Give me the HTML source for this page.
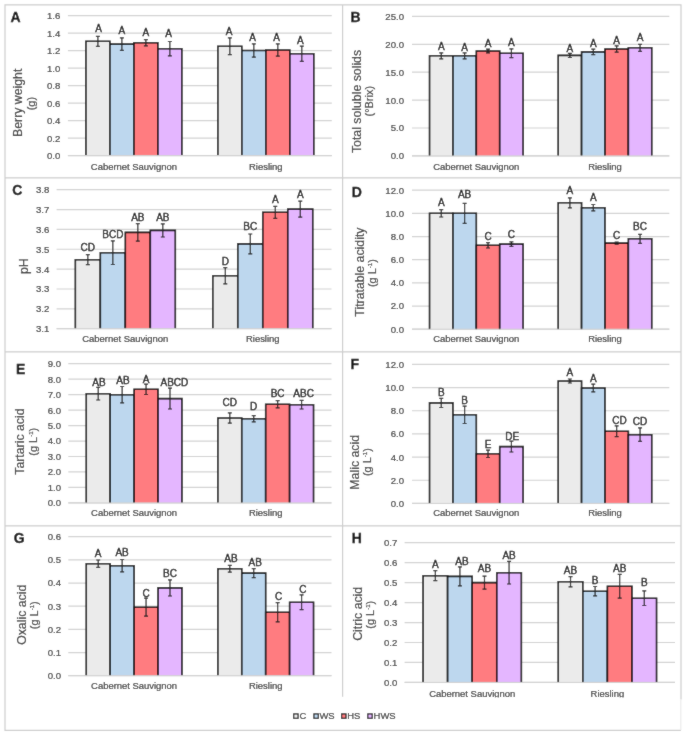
<!DOCTYPE html>
<html><head><meta charset="utf-8"><title>Figure</title>
<style>
html,body{margin:0;padding:0;background:#fff;}
body{width:685px;height:735px;overflow:hidden;}
svg{display:block;font-family:"Liberation Sans",sans-serif;}
</style></head>
<body>
<svg width="685" height="735" viewBox="0 0 685 735">
<defs><filter id="bl" x="0" y="0" width="685" height="735" filterUnits="userSpaceOnUse"><feConvolveMatrix order="3" kernelMatrix="1 2 1 2 28 2 1 2 1" edgeMode="duplicate" preserveAlpha="true"/></filter></defs>
<g filter="url(#bl)">
<rect width="685" height="735" fill="#fff"/>
<g transform="translate(0 0.3)">
<g fill="none" stroke="#cdcdcd" stroke-width="1.2">
<path d="M681 699.3V4.6H5V730H681"/>
<line x1="680.8" y1="699.3" x2="680.8" y2="730" stroke="#ececec"/>
<line x1="342.6" y1="4.6" x2="342.6" y2="696.5"/>
<line x1="5" y1="177.6" x2="681" y2="177.6"/>
<line x1="5" y1="351.6" x2="681" y2="351.6"/>
<line x1="5" y1="525.6" x2="681" y2="525.6"/>
</g>
<g stroke="#d2d2d2" stroke-width="1.2">
<line x1="67.9" y1="155.3" x2="331.8" y2="155.3"/>
<line x1="67.9" y1="137.8" x2="331.8" y2="137.8"/>
<line x1="67.9" y1="120.3" x2="331.8" y2="120.3"/>
<line x1="67.9" y1="102.8" x2="331.8" y2="102.8"/>
<line x1="67.9" y1="85.3" x2="331.8" y2="85.3"/>
<line x1="67.9" y1="67.8" x2="331.8" y2="67.8"/>
<line x1="67.9" y1="50.3" x2="331.8" y2="50.3"/>
<line x1="67.9" y1="32.8" x2="331.8" y2="32.8"/>
<line x1="67.9" y1="15.3" x2="331.8" y2="15.3"/>
</g>
<g font-size="9.6" fill="#333333" stroke="#333333" stroke-width="0.2" text-anchor="end">
<text transform="translate(60.3 158.75) scale(1 1.0)">0.0</text>
<text transform="translate(60.3 141.25) scale(1 1.0)">0.2</text>
<text transform="translate(60.3 123.75) scale(1 1.0)">0.4</text>
<text transform="translate(60.3 106.25) scale(1 1.0)">0.6</text>
<text transform="translate(60.3 88.75) scale(1 1.0)">0.8</text>
<text transform="translate(60.3 71.25) scale(1 1.0)">1.0</text>
<text transform="translate(60.3 53.75) scale(1 1.0)">1.2</text>
<text transform="translate(60.3 36.25) scale(1 1.0)">1.4</text>
<text transform="translate(60.3 18.75) scale(1 1.0)">1.6</text>
</g>
<rect x="85.89" y="41" width="23.99" height="114.3" fill="#ebebeb"/>
<path d="M85.89 155.3V41H109.88V155.3" fill="none" stroke="#000" stroke-width="1.6"/>
<rect x="109.88" y="43.8" width="23.99" height="111.5" fill="#bdd7ee"/>
<path d="M109.88 155.3V43.8H133.88V155.3" fill="none" stroke="#000" stroke-width="1.6"/>
<rect x="133.88" y="42.5" width="23.99" height="112.8" fill="#ff7c80"/>
<path d="M133.88 155.3V42.5H157.87V155.3" fill="none" stroke="#000" stroke-width="1.6"/>
<rect x="157.87" y="48.4" width="23.99" height="106.9" fill="#e4b6ff"/>
<path d="M157.87 155.3V48.4H181.86V155.3" fill="none" stroke="#000" stroke-width="1.6"/>
<rect x="217.84" y="46" width="23.99" height="109.3" fill="#ebebeb"/>
<path d="M217.84 155.3V46H241.83V155.3" fill="none" stroke="#000" stroke-width="1.6"/>
<rect x="241.83" y="50.2" width="23.99" height="105.1" fill="#bdd7ee"/>
<path d="M241.83 155.3V50.2H265.82V155.3" fill="none" stroke="#000" stroke-width="1.6"/>
<rect x="265.82" y="49.7" width="23.99" height="105.6" fill="#ff7c80"/>
<path d="M265.82 155.3V49.7H289.82V155.3" fill="none" stroke="#000" stroke-width="1.6"/>
<rect x="289.82" y="53.4" width="23.99" height="101.9" fill="#e4b6ff"/>
<path d="M289.82 155.3V53.4H313.81V155.3" fill="none" stroke="#000" stroke-width="1.6"/>
<line x1="67.9" y1="155.3" x2="331.8" y2="155.3" stroke="#d2d2d2" stroke-width="1"/>
<g stroke="#1e1e1e" stroke-width="1.2">
<path d="M97.89 36V46M95.89 36H99.89M95.89 46H99.89"/>
<path d="M121.88 37.6V50M119.88 37.6H123.88M119.88 50H123.88"/>
<path d="M145.87 39.4V45.6M143.87 39.4H147.87M143.87 45.6H147.87"/>
<path d="M169.86 41.2V55.6M167.86 41.2H171.86M167.86 55.6H171.86"/>
<path d="M229.84 37.6V54.4M227.84 37.6H231.84M227.84 54.4H231.84"/>
<path d="M253.83 43.5V56.9M251.83 43.5H255.83M251.83 56.9H255.83"/>
<path d="M277.82 43.6V55.8M275.82 43.6H279.82M275.82 55.8H279.82"/>
<path d="M301.81 45.8V61M299.81 45.8H303.81M299.81 61H303.81"/>
</g>
<g font-size="10" fill="#000" stroke="#000" stroke-width="0.32" text-anchor="middle">
<text x="98.49" y="32.2">A</text>
<text x="121.88" y="33.8">A</text>
<text x="145.87" y="35.4">A</text>
<text x="168.66" y="37">A</text>
<text x="229.04" y="34.5">A</text>
<text x="252.53" y="40.3">A</text>
<text x="276.62" y="40.3">A</text>
<text x="300.41" y="43.5">A</text>
</g>
<g font-size="9.45" fill="#333333" stroke="#333333" stroke-width="0.2" text-anchor="middle">
<text transform="translate(133.88 169.3) scale(1 1.0)">Cabernet Sauvignon</text>
<text transform="translate(265.82 169.3) scale(1 1.0)">Riesling</text>
</g>
<text transform="translate(22.4 102.5) rotate(-90)" font-size="12.3" fill="#333333" stroke="#333333" stroke-width="0.2" text-anchor="middle">Berry weight</text>
<text transform="translate(35.2 103.3) rotate(-90)" font-size="11" fill="#333333" stroke="#333333" stroke-width="0.2" text-anchor="middle">(g)</text>
<text x="10.5" y="22" font-size="14" font-weight="bold" fill="#000" stroke="#000" stroke-width="0.3">A</text>
<g stroke="#d2d2d2" stroke-width="1.2">
<line x1="412" y1="155.6" x2="669.3" y2="155.6"/>
<line x1="412" y1="127.7" x2="669.3" y2="127.7"/>
<line x1="412" y1="99.8" x2="669.3" y2="99.8"/>
<line x1="412" y1="71.9" x2="669.3" y2="71.9"/>
<line x1="412" y1="44" x2="669.3" y2="44"/>
<line x1="412" y1="16.1" x2="669.3" y2="16.1"/>
</g>
<g font-size="9.6" fill="#333333" stroke="#333333" stroke-width="0.2" text-anchor="end">
<text transform="translate(404 159.05) scale(1 1.0)">0.0</text>
<text transform="translate(404 131.15) scale(1 1.0)">5.0</text>
<text transform="translate(404 103.25) scale(1 1.0)">10.0</text>
<text transform="translate(404 75.35) scale(1 1.0)">15.0</text>
<text transform="translate(404 47.45) scale(1 1.0)">20.0</text>
<text transform="translate(404 19.55) scale(1 1.0)">25.0</text>
</g>
<rect x="429.54" y="55.5" width="23.39" height="100.1" fill="#ebebeb"/>
<path d="M429.54 155.6V55.5H452.93V155.6" fill="none" stroke="#000" stroke-width="1.6"/>
<rect x="452.93" y="55.5" width="23.39" height="100.1" fill="#bdd7ee"/>
<path d="M452.93 155.6V55.5H476.32V155.6" fill="none" stroke="#000" stroke-width="1.6"/>
<rect x="476.32" y="50.7" width="23.39" height="104.9" fill="#ff7c80"/>
<path d="M476.32 155.6V50.7H499.72V155.6" fill="none" stroke="#000" stroke-width="1.6"/>
<rect x="499.72" y="52.9" width="23.39" height="102.7" fill="#e4b6ff"/>
<path d="M499.72 155.6V52.9H523.11V155.6" fill="none" stroke="#000" stroke-width="1.6"/>
<rect x="558.19" y="55.1" width="23.39" height="100.5" fill="#ebebeb"/>
<path d="M558.19 155.6V55.1H581.58V155.6" fill="none" stroke="#000" stroke-width="1.6"/>
<rect x="581.58" y="51.6" width="23.39" height="104" fill="#bdd7ee"/>
<path d="M581.58 155.6V51.6H604.97V155.6" fill="none" stroke="#000" stroke-width="1.6"/>
<rect x="604.97" y="48.7" width="23.39" height="106.9" fill="#ff7c80"/>
<path d="M604.97 155.6V48.7H628.37V155.6" fill="none" stroke="#000" stroke-width="1.6"/>
<rect x="628.37" y="47.5" width="23.39" height="108.1" fill="#e4b6ff"/>
<path d="M628.37 155.6V47.5H651.76V155.6" fill="none" stroke="#000" stroke-width="1.6"/>
<line x1="412" y1="155.6" x2="669.3" y2="155.6" stroke="#d2d2d2" stroke-width="1"/>
<g stroke="#1e1e1e" stroke-width="1.2">
<path d="M441.24 52.5V58.5M439.24 52.5H443.24M439.24 58.5H443.24"/>
<path d="M464.63 52.5V58.5M462.63 52.5H466.63M462.63 58.5H466.63"/>
<path d="M488.02 48.9V52.5M486.02 48.9H490.02M486.02 52.5H490.02"/>
<path d="M511.41 48.5V57.3M509.41 48.5H513.41M509.41 57.3H513.41"/>
<path d="M569.89 53V57.2M567.89 53H571.89M567.89 57.2H571.89"/>
<path d="M593.28 48.9V54.3M591.28 48.9H595.28M591.28 54.3H595.28"/>
<path d="M616.67 45.6V51.8M614.67 45.6H618.67M614.67 51.8H618.67"/>
<path d="M640.06 44V51M638.06 44H642.06M638.06 51H642.06"/>
</g>
<g font-size="10" fill="#000" stroke="#000" stroke-width="0.32" text-anchor="middle">
<text x="441.24" y="50.1">A</text>
<text x="464.63" y="50.4">A</text>
<text x="488.02" y="46.9">A</text>
<text x="511.41" y="45.7">A</text>
<text x="569.89" y="51.6">A</text>
<text x="593.28" y="46.5">A</text>
<text x="616.67" y="43.6">A</text>
<text x="640.06" y="41.1">A</text>
</g>
<g font-size="9.45" fill="#333333" stroke="#333333" stroke-width="0.2" text-anchor="middle">
<text transform="translate(476.32 169.3) scale(1 1.0)">Cabernet Sauvignon</text>
<text transform="translate(604.97 169.3) scale(1 1.0)">Riesling</text>
</g>
<text transform="translate(360.8 101.2) rotate(-90)" font-size="12.3" fill="#333333" stroke="#333333" stroke-width="0.2" text-anchor="middle">Total soluble solids</text>
<text transform="translate(373.2 100.9) rotate(-90)" font-size="11" fill="#333333" stroke="#333333" stroke-width="0.2" text-anchor="middle">(°Brix)</text>
<text x="350.4" y="21.8" font-size="14" font-weight="bold" fill="#000" stroke="#000" stroke-width="0.3">B</text>
<g stroke="#d2d2d2" stroke-width="1.2">
<line x1="56.6" y1="328.4" x2="331.5" y2="328.4"/>
<line x1="56.6" y1="308.54" x2="331.5" y2="308.54"/>
<line x1="56.6" y1="288.69" x2="331.5" y2="288.69"/>
<line x1="56.6" y1="268.83" x2="331.5" y2="268.83"/>
<line x1="56.6" y1="248.97" x2="331.5" y2="248.97"/>
<line x1="56.6" y1="229.11" x2="331.5" y2="229.11"/>
<line x1="56.6" y1="209.26" x2="331.5" y2="209.26"/>
<line x1="56.6" y1="189.4" x2="331.5" y2="189.4"/>
</g>
<g font-size="9.6" fill="#333333" stroke="#333333" stroke-width="0.2" text-anchor="end">
<text transform="translate(49.3 331.85) scale(1 1.0)">3.1</text>
<text transform="translate(49.3 311.99) scale(1 1.0)">3.2</text>
<text transform="translate(49.3 292.14) scale(1 1.0)">3.3</text>
<text transform="translate(49.3 272.28) scale(1 1.0)">3.4</text>
<text transform="translate(49.3 252.42) scale(1 1.0)">3.5</text>
<text transform="translate(49.3 232.56) scale(1 1.0)">3.6</text>
<text transform="translate(49.3 212.71) scale(1 1.0)">3.7</text>
<text transform="translate(49.3 192.85) scale(1 1.0)">3.8</text>
</g>
<rect x="75.34" y="259.4" width="24.99" height="69" fill="#ebebeb"/>
<path d="M75.34 328.4V259.4H100.33V328.4" fill="none" stroke="#000" stroke-width="1.6"/>
<rect x="100.33" y="252.4" width="24.99" height="76" fill="#bdd7ee"/>
<path d="M100.33 328.4V252.4H125.32V328.4" fill="none" stroke="#000" stroke-width="1.6"/>
<rect x="125.32" y="232.1" width="24.99" height="96.3" fill="#ff7c80"/>
<path d="M125.32 328.4V232.1H150.32V328.4" fill="none" stroke="#000" stroke-width="1.6"/>
<rect x="150.32" y="230.1" width="24.99" height="98.3" fill="#e4b6ff"/>
<path d="M150.32 328.4V230.1H175.31V328.4" fill="none" stroke="#000" stroke-width="1.6"/>
<rect x="212.79" y="275.5" width="24.99" height="52.9" fill="#ebebeb"/>
<path d="M212.79 328.4V275.5H237.78V328.4" fill="none" stroke="#000" stroke-width="1.6"/>
<rect x="237.78" y="243.6" width="24.99" height="84.8" fill="#bdd7ee"/>
<path d="M237.78 328.4V243.6H262.77V328.4" fill="none" stroke="#000" stroke-width="1.6"/>
<rect x="262.77" y="212" width="24.99" height="116.4" fill="#ff7c80"/>
<path d="M262.77 328.4V212H287.77V328.4" fill="none" stroke="#000" stroke-width="1.6"/>
<rect x="287.77" y="208.8" width="24.99" height="119.6" fill="#e4b6ff"/>
<path d="M287.77 328.4V208.8H312.76V328.4" fill="none" stroke="#000" stroke-width="1.6"/>
<line x1="56.6" y1="328.4" x2="331.5" y2="328.4" stroke="#d2d2d2" stroke-width="1"/>
<g stroke="#1e1e1e" stroke-width="1.2">
<path d="M87.84 254.4V264.4M85.84 254.4H89.84M85.84 264.4H89.84"/>
<path d="M112.83 240.6V264.2M110.83 240.6H114.83M110.83 264.2H114.83"/>
<path d="M137.82 223.4V240.8M135.82 223.4H139.82M135.82 240.8H139.82"/>
<path d="M162.81 223.5V236.7M160.81 223.5H164.81M160.81 236.7H164.81"/>
<path d="M225.29 267.4V283.6M223.29 267.4H227.29M223.29 283.6H227.29"/>
<path d="M250.28 233.7V253.5M248.28 233.7H252.28M248.28 253.5H252.28"/>
<path d="M275.27 206V218M273.27 206H277.27M273.27 218H277.27"/>
<path d="M300.26 200.8V216.8M298.26 200.8H302.26M298.26 216.8H302.26"/>
</g>
<g font-size="10" fill="#000" stroke="#000" stroke-width="0.32" text-anchor="middle">
<text x="87.84" y="250.5">CD</text>
<text x="112.83" y="237.6">BCD</text>
<text x="137.82" y="220.3">AB</text>
<text x="162.81" y="220.3">AB</text>
<text x="225.29" y="265.2">D</text>
<text x="250.28" y="229.8">BC</text>
<text x="275.27" y="202.5">A</text>
<text x="300.26" y="197.7">A</text>
</g>
<g font-size="9.45" fill="#333333" stroke="#333333" stroke-width="0.2" text-anchor="middle">
<text transform="translate(125.32 341.8) scale(1 1.0)">Cabernet Sauvignon</text>
<text transform="translate(262.77 341.8) scale(1 1.0)">Riesling</text>
</g>
<text transform="translate(28.4 265.9) rotate(-90)" font-size="12.3" fill="#333333" stroke="#333333" stroke-width="0.2" text-anchor="middle">pH</text>
<text x="12.2" y="194.9" font-size="14" font-weight="bold" fill="#000" stroke="#000" stroke-width="0.3">C</text>
<g stroke="#d2d2d2" stroke-width="1.2">
<line x1="412" y1="328.9" x2="669.3" y2="328.9"/>
<line x1="412" y1="305.73" x2="669.3" y2="305.73"/>
<line x1="412" y1="282.57" x2="669.3" y2="282.57"/>
<line x1="412" y1="259.4" x2="669.3" y2="259.4"/>
<line x1="412" y1="236.23" x2="669.3" y2="236.23"/>
<line x1="412" y1="213.07" x2="669.3" y2="213.07"/>
<line x1="412" y1="189.9" x2="669.3" y2="189.9"/>
</g>
<g font-size="9.6" fill="#333333" stroke="#333333" stroke-width="0.2" text-anchor="end">
<text transform="translate(404 332.35) scale(1 1.0)">0.0</text>
<text transform="translate(404 309.18) scale(1 1.0)">2.0</text>
<text transform="translate(404 286.02) scale(1 1.0)">4.0</text>
<text transform="translate(404 262.85) scale(1 1.0)">6.0</text>
<text transform="translate(404 239.68) scale(1 1.0)">8.0</text>
<text transform="translate(404 216.52) scale(1 1.0)">10.0</text>
<text transform="translate(404 193.35) scale(1 1.0)">12.0</text>
</g>
<rect x="429.54" y="213" width="23.39" height="115.9" fill="#ebebeb"/>
<path d="M429.54 328.9V213H452.93V328.9" fill="none" stroke="#000" stroke-width="1.6"/>
<rect x="452.93" y="213" width="23.39" height="115.9" fill="#bdd7ee"/>
<path d="M452.93 328.9V213H476.32V328.9" fill="none" stroke="#000" stroke-width="1.6"/>
<rect x="476.32" y="245" width="23.39" height="83.9" fill="#ff7c80"/>
<path d="M476.32 328.9V245H499.72V328.9" fill="none" stroke="#000" stroke-width="1.6"/>
<rect x="499.72" y="243.8" width="23.39" height="85.1" fill="#e4b6ff"/>
<path d="M499.72 328.9V243.8H523.11V328.9" fill="none" stroke="#000" stroke-width="1.6"/>
<rect x="558.19" y="202.5" width="23.39" height="126.4" fill="#ebebeb"/>
<path d="M558.19 328.9V202.5H581.58V328.9" fill="none" stroke="#000" stroke-width="1.6"/>
<rect x="581.58" y="207.4" width="23.39" height="121.5" fill="#bdd7ee"/>
<path d="M581.58 328.9V207.4H604.97V328.9" fill="none" stroke="#000" stroke-width="1.6"/>
<rect x="604.97" y="242.8" width="23.39" height="86.1" fill="#ff7c80"/>
<path d="M604.97 328.9V242.8H628.37V328.9" fill="none" stroke="#000" stroke-width="1.6"/>
<rect x="628.37" y="238.5" width="23.39" height="90.4" fill="#e4b6ff"/>
<path d="M628.37 328.9V238.5H651.76V328.9" fill="none" stroke="#000" stroke-width="1.6"/>
<line x1="412" y1="328.9" x2="669.3" y2="328.9" stroke="#d2d2d2" stroke-width="1"/>
<g stroke="#1e1e1e" stroke-width="1.2">
<path d="M441.24 209.3V216.7M439.24 209.3H443.24M439.24 216.7H443.24"/>
<path d="M464.63 203V223M462.63 203H466.63M462.63 223H466.63"/>
<path d="M488.02 242.3V247.7M486.02 242.3H490.02M486.02 247.7H490.02"/>
<path d="M511.41 241.5V246.1M509.41 241.5H513.41M509.41 246.1H513.41"/>
<path d="M569.89 197.5V207.5M567.89 197.5H571.89M567.89 207.5H571.89"/>
<path d="M593.28 204.2V210.6M591.28 204.2H595.28M591.28 210.6H595.28"/>
<path d="M616.67 241.8V243.8M614.67 241.8H618.67M614.67 243.8H618.67"/>
<path d="M640.06 234V243M638.06 234H642.06M638.06 243H642.06"/>
</g>
<g font-size="10" fill="#000" stroke="#000" stroke-width="0.32" text-anchor="middle">
<text x="441.24" y="205.6">A</text>
<text x="464.63" y="198">AB</text>
<text x="488.02" y="239.3">C</text>
<text x="511.41" y="238">C</text>
<text x="569.89" y="194">A</text>
<text x="593.28" y="201.2">A</text>
<text x="616.67" y="239">C</text>
<text x="640.06" y="229.3">BC</text>
</g>
<g font-size="9.45" fill="#333333" stroke="#333333" stroke-width="0.2" text-anchor="middle">
<text transform="translate(476.32 341.8) scale(1 1.0)">Cabernet Sauvignon</text>
<text transform="translate(604.97 341.8) scale(1 1.0)">Riesling</text>
</g>
<text transform="translate(364 271.8) rotate(-90)" font-size="12.3" fill="#333333" stroke="#333333" stroke-width="0.2" text-anchor="middle">Titratable acidity</text>
<text transform="translate(376 272.8) rotate(-90)" font-size="11" fill="#333333" stroke="#333333" stroke-width="0.2" text-anchor="middle">(g L<tspan font-size="6" dy="-3.8">-1</tspan><tspan dy="3.8">)</tspan></text>
<text x="351.7" y="196.8" font-size="14" font-weight="bold" fill="#000" stroke="#000" stroke-width="0.3">D</text>
<g stroke="#d2d2d2" stroke-width="1.2">
<line x1="68.3" y1="502.6" x2="331.5" y2="502.6"/>
<line x1="68.3" y1="487.13" x2="331.5" y2="487.13"/>
<line x1="68.3" y1="471.67" x2="331.5" y2="471.67"/>
<line x1="68.3" y1="456.2" x2="331.5" y2="456.2"/>
<line x1="68.3" y1="440.73" x2="331.5" y2="440.73"/>
<line x1="68.3" y1="425.27" x2="331.5" y2="425.27"/>
<line x1="68.3" y1="409.8" x2="331.5" y2="409.8"/>
<line x1="68.3" y1="394.33" x2="331.5" y2="394.33"/>
<line x1="68.3" y1="378.87" x2="331.5" y2="378.87"/>
<line x1="68.3" y1="363.4" x2="331.5" y2="363.4"/>
</g>
<g font-size="9.6" fill="#333333" stroke="#333333" stroke-width="0.2" text-anchor="end">
<text transform="translate(61 506.05) scale(1 1.0)">0.0</text>
<text transform="translate(61 490.58) scale(1 1.0)">1.0</text>
<text transform="translate(61 475.12) scale(1 1.0)">2.0</text>
<text transform="translate(61 459.65) scale(1 1.0)">3.0</text>
<text transform="translate(61 444.18) scale(1 1.0)">4.0</text>
<text transform="translate(61 428.72) scale(1 1.0)">5.0</text>
<text transform="translate(61 413.25) scale(1 1.0)">6.0</text>
<text transform="translate(61 397.78) scale(1 1.0)">7.0</text>
<text transform="translate(61 382.32) scale(1 1.0)">8.0</text>
<text transform="translate(61 366.85) scale(1 1.0)">9.0</text>
</g>
<rect x="86.25" y="393.4" width="23.93" height="109.2" fill="#ebebeb"/>
<path d="M86.25 502.6V393.4H110.17V502.6" fill="none" stroke="#000" stroke-width="1.6"/>
<rect x="110.17" y="394.4" width="23.93" height="108.2" fill="#bdd7ee"/>
<path d="M110.17 502.6V394.4H134.1V502.6" fill="none" stroke="#000" stroke-width="1.6"/>
<rect x="134.1" y="389" width="23.93" height="113.6" fill="#ff7c80"/>
<path d="M134.1 502.6V389H158.03V502.6" fill="none" stroke="#000" stroke-width="1.6"/>
<rect x="158.03" y="398.3" width="23.93" height="104.3" fill="#e4b6ff"/>
<path d="M158.03 502.6V398.3H181.95V502.6" fill="none" stroke="#000" stroke-width="1.6"/>
<rect x="217.85" y="417.7" width="23.93" height="84.9" fill="#ebebeb"/>
<path d="M217.85 502.6V417.7H241.77V502.6" fill="none" stroke="#000" stroke-width="1.6"/>
<rect x="241.77" y="418.5" width="23.93" height="84.1" fill="#bdd7ee"/>
<path d="M241.77 502.6V418.5H265.7V502.6" fill="none" stroke="#000" stroke-width="1.6"/>
<rect x="265.7" y="403.9" width="23.93" height="98.7" fill="#ff7c80"/>
<path d="M265.7 502.6V403.9H289.63V502.6" fill="none" stroke="#000" stroke-width="1.6"/>
<rect x="289.63" y="404.4" width="23.93" height="98.2" fill="#e4b6ff"/>
<path d="M289.63 502.6V404.4H313.55V502.6" fill="none" stroke="#000" stroke-width="1.6"/>
<line x1="68.3" y1="502.6" x2="331.5" y2="502.6" stroke="#d2d2d2" stroke-width="1"/>
<g stroke="#1e1e1e" stroke-width="1.2">
<path d="M98.21 387.1V399.7M96.21 387.1H100.21M96.21 399.7H100.21"/>
<path d="M122.14 386.2V402.6M120.14 386.2H124.14M120.14 402.6H124.14"/>
<path d="M146.06 383.8V394.2M144.06 383.8H148.06M144.06 394.2H148.06"/>
<path d="M169.99 387.9V408.7M167.99 387.9H171.99M167.99 408.7H171.99"/>
<path d="M229.81 412.6V422.8M227.81 412.6H231.81M227.81 422.8H231.81"/>
<path d="M253.74 415.4V421.6M251.74 415.4H255.74M251.74 421.6H255.74"/>
<path d="M277.66 400.3V407.5M275.66 400.3H279.66M275.66 407.5H279.66"/>
<path d="M301.59 400.1V408.7M299.59 400.1H303.59M299.59 408.7H303.59"/>
</g>
<g font-size="10" fill="#000" stroke="#000" stroke-width="0.32" text-anchor="middle">
<text x="99.01" y="385.3">AB</text>
<text x="122.94" y="383.7">AB</text>
<text x="146.06" y="382.4">A</text>
<text x="174.39" y="386.1">ABCD</text>
<text x="229.81" y="406">CD</text>
<text x="253.74" y="409.7">D</text>
<text x="277.66" y="396.4">BC</text>
<text x="303.59" y="396.7">ABC</text>
</g>
<g font-size="9.45" fill="#333333" stroke="#333333" stroke-width="0.2" text-anchor="middle">
<text transform="translate(134.1 515.6) scale(1 1.0)">Cabernet Sauvignon</text>
<text transform="translate(265.7 515.6) scale(1 1.0)">Riesling</text>
</g>
<text transform="translate(24.2 441.3) rotate(-90)" font-size="12.3" fill="#333333" stroke="#333333" stroke-width="0.2" text-anchor="middle">Tartaric acid</text>
<text transform="translate(36.8 441.5) rotate(-90)" font-size="11" fill="#333333" stroke="#333333" stroke-width="0.2" text-anchor="middle">(g L<tspan font-size="6" dy="-3.8">-1</tspan><tspan dy="3.8">)</tspan></text>
<text x="15.9" y="374.1" font-size="14" font-weight="bold" fill="#000" stroke="#000" stroke-width="0.3">E</text>
<g stroke="#d2d2d2" stroke-width="1.2">
<line x1="412" y1="503.1" x2="669.3" y2="503.1"/>
<line x1="412" y1="479.93" x2="669.3" y2="479.93"/>
<line x1="412" y1="456.77" x2="669.3" y2="456.77"/>
<line x1="412" y1="433.6" x2="669.3" y2="433.6"/>
<line x1="412" y1="410.43" x2="669.3" y2="410.43"/>
<line x1="412" y1="387.27" x2="669.3" y2="387.27"/>
<line x1="412" y1="364.1" x2="669.3" y2="364.1"/>
</g>
<g font-size="9.6" fill="#333333" stroke="#333333" stroke-width="0.2" text-anchor="end">
<text transform="translate(404 506.55) scale(1 1.0)">0.0</text>
<text transform="translate(404 483.38) scale(1 1.0)">2.0</text>
<text transform="translate(404 460.22) scale(1 1.0)">4.0</text>
<text transform="translate(404 437.05) scale(1 1.0)">6.0</text>
<text transform="translate(404 413.88) scale(1 1.0)">8.0</text>
<text transform="translate(404 390.72) scale(1 1.0)">10.0</text>
<text transform="translate(404 367.55) scale(1 1.0)">12.0</text>
</g>
<rect x="429.54" y="402.6" width="23.39" height="100.5" fill="#ebebeb"/>
<path d="M429.54 503.1V402.6H452.93V503.1" fill="none" stroke="#000" stroke-width="1.6"/>
<rect x="452.93" y="414.5" width="23.39" height="88.6" fill="#bdd7ee"/>
<path d="M452.93 503.1V414.5H476.32V503.1" fill="none" stroke="#000" stroke-width="1.6"/>
<rect x="476.32" y="453.5" width="23.39" height="49.6" fill="#ff7c80"/>
<path d="M476.32 503.1V453.5H499.72V503.1" fill="none" stroke="#000" stroke-width="1.6"/>
<rect x="499.72" y="446.3" width="23.39" height="56.8" fill="#e4b6ff"/>
<path d="M499.72 503.1V446.3H523.11V503.1" fill="none" stroke="#000" stroke-width="1.6"/>
<rect x="558.19" y="380.7" width="23.39" height="122.4" fill="#ebebeb"/>
<path d="M558.19 503.1V380.7H581.58V503.1" fill="none" stroke="#000" stroke-width="1.6"/>
<rect x="581.58" y="387.7" width="23.39" height="115.4" fill="#bdd7ee"/>
<path d="M581.58 503.1V387.7H604.97V503.1" fill="none" stroke="#000" stroke-width="1.6"/>
<rect x="604.97" y="430.9" width="23.39" height="72.2" fill="#ff7c80"/>
<path d="M604.97 503.1V430.9H628.37V503.1" fill="none" stroke="#000" stroke-width="1.6"/>
<rect x="628.37" y="434.4" width="23.39" height="68.7" fill="#e4b6ff"/>
<path d="M628.37 503.1V434.4H651.76V503.1" fill="none" stroke="#000" stroke-width="1.6"/>
<line x1="412" y1="503.1" x2="669.3" y2="503.1" stroke="#d2d2d2" stroke-width="1"/>
<g stroke="#1e1e1e" stroke-width="1.2">
<path d="M441.24 398V407.2M439.24 398H443.24M439.24 407.2H443.24"/>
<path d="M464.63 405.8V423.2M462.63 405.8H466.63M462.63 423.2H466.63"/>
<path d="M488.02 449.8V457.2M486.02 449.8H490.02M486.02 457.2H490.02"/>
<path d="M511.41 440.9V451.7M509.41 440.9H513.41M509.41 451.7H513.41"/>
<path d="M569.89 378.7V382.7M567.89 378.7H571.89M567.89 382.7H571.89"/>
<path d="M593.28 383.9V391.5M591.28 383.9H595.28M591.28 391.5H595.28"/>
<path d="M616.67 425.5V436.3M614.67 425.5H618.67M614.67 436.3H618.67"/>
<path d="M640.06 427.65V441.15M638.06 427.65H642.06M638.06 441.15H642.06"/>
</g>
<g font-size="10" fill="#000" stroke="#000" stroke-width="0.32" text-anchor="middle">
<text x="441.24" y="395.9">B</text>
<text x="464.63" y="404">B</text>
<text x="488.02" y="447.3">E</text>
<text x="512.21" y="439.8">DE</text>
<text x="569.89" y="375.9">A</text>
<text x="593.28" y="381.6">A</text>
<text x="619.47" y="423.3">CD</text>
<text x="640.06" y="425.2">CD</text>
</g>
<g font-size="9.45" fill="#333333" stroke="#333333" stroke-width="0.2" text-anchor="middle">
<text transform="translate(476.32 516.1) scale(1 1.0)">Cabernet Sauvignon</text>
<text transform="translate(604.97 516.1) scale(1 1.0)">Riesling</text>
</g>
<text transform="translate(358.9 462) rotate(-90)" font-size="12.3" fill="#333333" stroke="#333333" stroke-width="0.2" text-anchor="middle">Malic acid</text>
<text transform="translate(371 461.8) rotate(-90)" font-size="11" fill="#333333" stroke="#333333" stroke-width="0.2" text-anchor="middle">(g L<tspan font-size="6" dy="-3.8">-1</tspan><tspan dy="3.8">)</tspan></text>
<text x="350.4" y="368.4" font-size="14" font-weight="bold" fill="#000" stroke="#000" stroke-width="0.3">F</text>
<g stroke="#d2d2d2" stroke-width="1.2">
<line x1="68.3" y1="675.4" x2="331.5" y2="675.4"/>
<line x1="68.3" y1="652.23" x2="331.5" y2="652.23"/>
<line x1="68.3" y1="629.07" x2="331.5" y2="629.07"/>
<line x1="68.3" y1="605.9" x2="331.5" y2="605.9"/>
<line x1="68.3" y1="582.73" x2="331.5" y2="582.73"/>
<line x1="68.3" y1="559.57" x2="331.5" y2="559.57"/>
<line x1="68.3" y1="536.4" x2="331.5" y2="536.4"/>
</g>
<g font-size="9.6" fill="#333333" stroke="#333333" stroke-width="0.2" text-anchor="end">
<text transform="translate(61 678.85) scale(1 1.0)">0.0</text>
<text transform="translate(61 655.68) scale(1 1.0)">0.1</text>
<text transform="translate(61 632.52) scale(1 1.0)">0.2</text>
<text transform="translate(61 609.35) scale(1 1.0)">0.3</text>
<text transform="translate(61 586.18) scale(1 1.0)">0.4</text>
<text transform="translate(61 563.02) scale(1 1.0)">0.5</text>
<text transform="translate(61 539.85) scale(1 1.0)">0.6</text>
</g>
<rect x="86.25" y="563.4" width="23.93" height="112" fill="#ebebeb"/>
<path d="M86.25 675.4V563.4H110.17V675.4" fill="none" stroke="#000" stroke-width="1.6"/>
<rect x="110.17" y="565.4" width="23.93" height="110" fill="#bdd7ee"/>
<path d="M110.17 675.4V565.4H134.1V675.4" fill="none" stroke="#000" stroke-width="1.6"/>
<rect x="134.1" y="606.9" width="23.93" height="68.5" fill="#ff7c80"/>
<path d="M134.1 675.4V606.9H158.03V675.4" fill="none" stroke="#000" stroke-width="1.6"/>
<rect x="158.03" y="587.6" width="23.93" height="87.8" fill="#e4b6ff"/>
<path d="M158.03 675.4V587.6H181.95V675.4" fill="none" stroke="#000" stroke-width="1.6"/>
<rect x="217.85" y="568.4" width="23.93" height="107" fill="#ebebeb"/>
<path d="M217.85 675.4V568.4H241.77V675.4" fill="none" stroke="#000" stroke-width="1.6"/>
<rect x="241.77" y="572.8" width="23.93" height="102.6" fill="#bdd7ee"/>
<path d="M241.77 675.4V572.8H265.7V675.4" fill="none" stroke="#000" stroke-width="1.6"/>
<rect x="265.7" y="611.9" width="23.93" height="63.5" fill="#ff7c80"/>
<path d="M265.7 675.4V611.9H289.63V675.4" fill="none" stroke="#000" stroke-width="1.6"/>
<rect x="289.63" y="601.9" width="23.93" height="73.5" fill="#e4b6ff"/>
<path d="M289.63 675.4V601.9H313.55V675.4" fill="none" stroke="#000" stroke-width="1.6"/>
<line x1="68.3" y1="675.4" x2="331.5" y2="675.4" stroke="#d2d2d2" stroke-width="1"/>
<g stroke="#1e1e1e" stroke-width="1.2">
<path d="M98.21 559.7V567.1M96.21 559.7H100.21M96.21 567.1H100.21"/>
<path d="M122.14 559.2V571.6M120.14 559.2H124.14M120.14 571.6H124.14"/>
<path d="M146.06 597.9V615.9M144.06 597.9H148.06M144.06 615.9H148.06"/>
<path d="M169.99 579.5V595.7M167.99 579.5H171.99M167.99 595.7H171.99"/>
<path d="M229.81 565V571.8M227.81 565H231.81M227.81 571.8H231.81"/>
<path d="M253.74 568.3V577.3M251.74 568.3H255.74M251.74 577.3H255.74"/>
<path d="M277.66 602.3V621.5M275.66 602.3H279.66M275.66 621.5H279.66"/>
<path d="M301.59 594.5V609.3M299.59 594.5H303.59M299.59 609.3H303.59"/>
</g>
<g font-size="10" fill="#000" stroke="#000" stroke-width="0.32" text-anchor="middle">
<text x="98.21" y="557">A</text>
<text x="122.14" y="555.4">AB</text>
<text x="146.06" y="596.3">C</text>
<text x="169.99" y="576.3">BC</text>
<text x="230.91" y="561.7">AB</text>
<text x="255.24" y="565.7">AB</text>
<text x="278.66" y="599.9">C</text>
<text x="302.89" y="593.2">C</text>
</g>
<g font-size="9.45" fill="#333333" stroke="#333333" stroke-width="0.2" text-anchor="middle">
<text transform="translate(134.1 688.8) scale(1 1.0)">Cabernet Sauvignon</text>
<text transform="translate(265.7 688.8) scale(1 1.0)">Riesling</text>
</g>
<text transform="translate(25.8 614.5) rotate(-90)" font-size="12.3" fill="#333333" stroke="#333333" stroke-width="0.2" text-anchor="middle">Oxalic acid</text>
<text transform="translate(38 615) rotate(-90)" font-size="11" fill="#333333" stroke="#333333" stroke-width="0.2" text-anchor="middle">(g L<tspan font-size="6" dy="-3.8">-1</tspan><tspan dy="3.8">)</tspan></text>
<text x="13.7" y="543.1" font-size="14" font-weight="bold" fill="#000" stroke="#000" stroke-width="0.3">G</text>
<g stroke="#d2d2d2" stroke-width="1.2">
<line x1="404.6" y1="682.1" x2="675" y2="682.1"/>
<line x1="404.6" y1="662.14" x2="675" y2="662.14"/>
<line x1="404.6" y1="642.19" x2="675" y2="642.19"/>
<line x1="404.6" y1="622.23" x2="675" y2="622.23"/>
<line x1="404.6" y1="602.27" x2="675" y2="602.27"/>
<line x1="404.6" y1="582.31" x2="675" y2="582.31"/>
<line x1="404.6" y1="562.36" x2="675" y2="562.36"/>
<line x1="404.6" y1="542.4" x2="675" y2="542.4"/>
</g>
<g font-size="9.6" fill="#333333" stroke="#333333" stroke-width="0.2" text-anchor="end">
<text transform="translate(397.3 685.55) scale(1 1.0)">0.0</text>
<text transform="translate(397.3 665.59) scale(1 1.0)">0.1</text>
<text transform="translate(397.3 645.64) scale(1 1.0)">0.2</text>
<text transform="translate(397.3 625.68) scale(1 1.0)">0.3</text>
<text transform="translate(397.3 605.72) scale(1 1.0)">0.4</text>
<text transform="translate(397.3 585.76) scale(1 1.0)">0.5</text>
<text transform="translate(397.3 565.81) scale(1 1.0)">0.6</text>
<text transform="translate(397.3 545.85) scale(1 1.0)">0.7</text>
</g>
<rect x="423.04" y="575.4" width="24.58" height="106.7" fill="#ebebeb"/>
<path d="M423.04 682.1V575.4H447.62V682.1" fill="none" stroke="#000" stroke-width="1.6"/>
<rect x="447.62" y="576.1" width="24.58" height="106" fill="#bdd7ee"/>
<path d="M447.62 682.1V576.1H472.2V682.1" fill="none" stroke="#000" stroke-width="1.6"/>
<rect x="472.2" y="582.3" width="24.58" height="99.8" fill="#ff7c80"/>
<path d="M472.2 682.1V582.3H496.78V682.1" fill="none" stroke="#000" stroke-width="1.6"/>
<rect x="496.78" y="572.4" width="24.58" height="109.7" fill="#e4b6ff"/>
<path d="M496.78 682.1V572.4H521.36V682.1" fill="none" stroke="#000" stroke-width="1.6"/>
<rect x="558.24" y="581.4" width="24.58" height="100.7" fill="#ebebeb"/>
<path d="M558.24 682.1V581.4H582.82V682.1" fill="none" stroke="#000" stroke-width="1.6"/>
<rect x="582.82" y="590.9" width="24.58" height="91.2" fill="#bdd7ee"/>
<path d="M582.82 682.1V590.9H607.4V682.1" fill="none" stroke="#000" stroke-width="1.6"/>
<rect x="607.4" y="586" width="24.58" height="96.1" fill="#ff7c80"/>
<path d="M607.4 682.1V586H631.98V682.1" fill="none" stroke="#000" stroke-width="1.6"/>
<rect x="631.98" y="597.9" width="24.58" height="84.2" fill="#e4b6ff"/>
<path d="M631.98 682.1V597.9H656.56V682.1" fill="none" stroke="#000" stroke-width="1.6"/>
<line x1="404.6" y1="682.1" x2="675" y2="682.1" stroke="#d2d2d2" stroke-width="1"/>
<g stroke="#1e1e1e" stroke-width="1.2">
<path d="M435.33 570.4V580.4M433.33 570.4H437.33M433.33 580.4H437.33"/>
<path d="M459.91 566.6V585.6M457.91 566.6H461.91M457.91 585.6H461.91"/>
<path d="M484.49 575.8V588.8M482.49 575.8H486.49M482.49 588.8H486.49"/>
<path d="M509.07 561.1V583.7M507.07 561.1H511.07M507.07 583.7H511.07"/>
<path d="M570.53 576.3V586.5M568.53 576.3H572.53M568.53 586.5H572.53"/>
<path d="M595.11 586.2V595.6M593.11 586.2H597.11M593.11 595.6H597.11"/>
<path d="M619.69 574.1V597.9M617.69 574.1H621.69M617.69 597.9H621.69"/>
<path d="M644.27 590.6V605.2M642.27 590.6H646.27M642.27 605.2H646.27"/>
</g>
<g font-size="10" fill="#000" stroke="#000" stroke-width="0.32" text-anchor="middle">
<text x="435.33" y="567.4">A</text>
<text x="461.91" y="565">AB</text>
<text x="484.49" y="571.7">AB</text>
<text x="509.07" y="559">AB</text>
<text x="570.53" y="573.4">AB</text>
<text x="595.11" y="583.5">B</text>
<text x="619.69" y="571.7">AB</text>
<text x="644.27" y="586.2">B</text>
</g>
<g font-size="9.45" fill="#333333" stroke="#333333" stroke-width="0.2" text-anchor="middle">
<clipPath id="clipH"><rect x="340" y="600" width="345" height="97.2"/></clipPath>
<g clip-path="url(#clipH)">
<text transform="translate(472.2 696.8) scale(1 1.0)">Cabernet Sauvignon</text>
<text transform="translate(607.4 696.8) scale(1 1.0)">Riesling</text>
</g>
</g>
<text transform="translate(361.8 613.5) rotate(-90)" font-size="12.3" fill="#333333" stroke="#333333" stroke-width="0.2" text-anchor="middle">Citric acid</text>
<text transform="translate(374.1 614.5) rotate(-90)" font-size="11" fill="#333333" stroke="#333333" stroke-width="0.2" text-anchor="middle">(g L<tspan font-size="6" dy="-3.8">-1</tspan><tspan dy="3.8">)</tspan></text>
<text x="351.7" y="542.4" font-size="14" font-weight="bold" fill="#000" stroke="#000" stroke-width="0.3">H</text>
<rect x="293.7" y="713.6" width="4.4" height="4.4" fill="#ebebeb" stroke="#1a1a1a" stroke-width="1.2"/>
<text x="299.4" y="719" font-size="9.45" fill="#333333" stroke="#333333" stroke-width="0.2">C</text>
<rect x="313.9" y="713.6" width="4.4" height="4.4" fill="#bdd7ee" stroke="#1a1a1a" stroke-width="1.2"/>
<text x="319.4" y="719" font-size="9.45" fill="#333333" stroke="#333333" stroke-width="0.2">WS</text>
<rect x="341.6" y="713.6" width="4.4" height="4.4" fill="#ff7c80" stroke="#1a1a1a" stroke-width="1.2"/>
<text x="347.3" y="719" font-size="9.45" fill="#333333" stroke="#333333" stroke-width="0.2">HS</text>
<rect x="367.8" y="713.6" width="4.4" height="4.4" fill="#e4b6ff" stroke="#1a1a1a" stroke-width="1.2"/>
<text x="373.6" y="719" font-size="9.45" fill="#333333" stroke="#333333" stroke-width="0.2">HWS</text>
</g>
</g>
</svg>
</body></html>
